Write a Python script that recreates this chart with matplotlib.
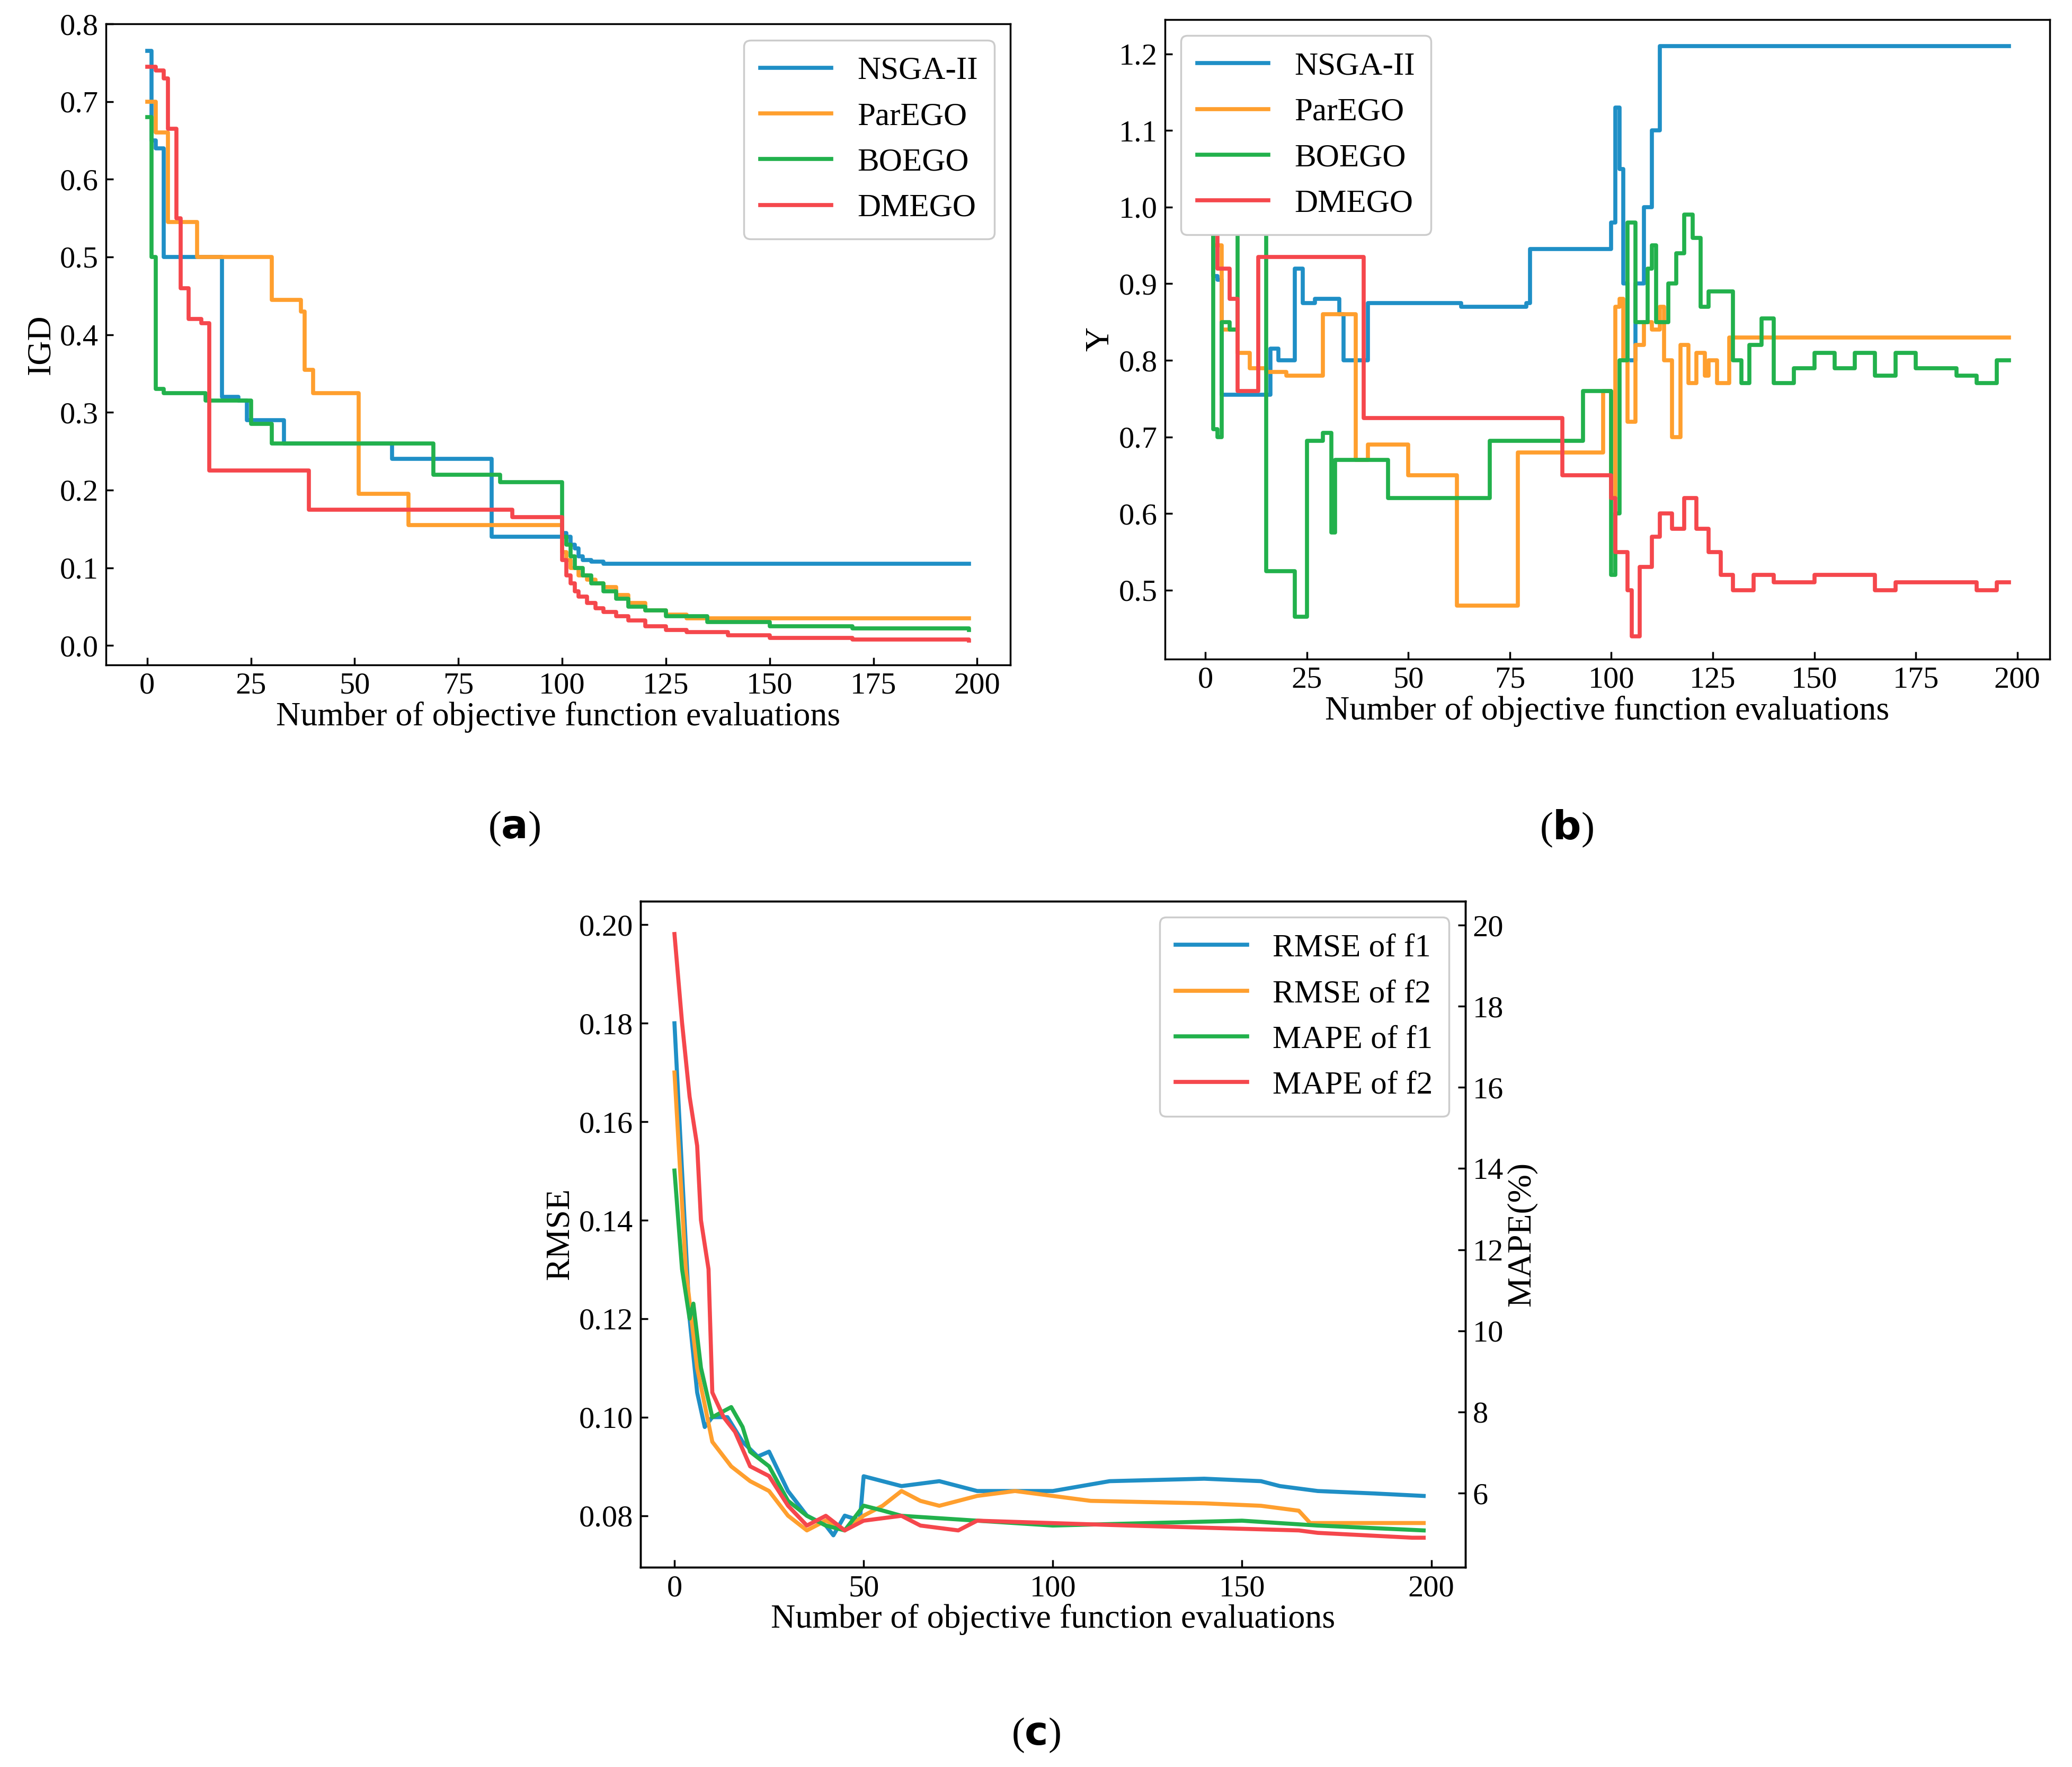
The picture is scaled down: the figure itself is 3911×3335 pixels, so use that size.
import matplotlib
matplotlib.use("Agg")
import matplotlib.pyplot as plt

plt.rcParams['font.family'] = ['Liberation Serif', 'DejaVu Serif']
plt.rcParams['font.size'] = 40

# ---------- (a) IGD ----------
a_ns_x = [0,1,2,4,17,18,22,24,33,59,83,99,100,101,102,103,104,105,107,110,198]
a_ns_y = [0.765,0.65,0.64,0.5,0.5,0.32,0.315,0.29,0.26,0.24,0.14,0.14,0.145,0.14,0.13,0.125,0.115,0.11,0.108,0.105,0.105]
a_pa_x = [0,2,5,12,30,37,38,40,51,63,99,100,101,102,104,106,108,110,113,116,120,125,130,198]
a_pa_y = [0.7,0.66,0.545,0.5,0.445,0.43,0.355,0.325,0.195,0.155,0.155,0.12,0.11,0.1,0.09,0.085,0.08,0.075,0.065,0.055,0.045,0.04,0.035,0.035]
a_bo_x = [0,1,2,4,14,25,30,69,85,99,100,101,102,103,105,107,110,113,116,120,125,135,150,170,198]
a_bo_y = [0.68,0.5,0.33,0.325,0.315,0.285,0.26,0.22,0.21,0.21,0.14,0.13,0.115,0.1,0.09,0.08,0.07,0.06,0.05,0.045,0.038,0.03,0.025,0.022,0.02]
a_dm_x = [0,2,4,5,7,8,10,13,15,39,88,99,100,101,102,103,104,106,108,110,113,116,120,125,130,140,150,170,198]
a_dm_y = [0.745,0.74,0.73,0.665,0.55,0.46,0.42,0.415,0.225,0.175,0.165,0.165,0.11,0.09,0.08,0.07,0.063,0.055,0.048,0.043,0.038,0.032,0.025,0.02,0.017,0.013,0.01,0.008,0.006]

# ---------- (b) Y ----------
b_ns_x = [0,2,3,4,14,16,18,22,24,27,33,34,40,63,79,80,99,100,101,102,103,104,106,108,110,112,198]
b_ns_y = [1.0,0.91,0.905,0.755,0.755,0.815,0.8,0.92,0.875,0.88,0.86,0.8,0.875,0.87,0.875,0.945,0.945,0.98,1.13,1.05,0.9,0.8,0.9,1.0,1.1,1.21,1.21]
b_pa_x = [0,2,4,8,11,15,20,29,36,37,40,50,62,77,97,98,100,101,102,103,104,105,106,108,110,112,113,115,117,119,121,123,124,126,129,198]
b_pa_y = [1.0,0.95,0.84,0.81,0.79,0.785,0.78,0.86,0.86,0.67,0.69,0.65,0.48,0.68,0.68,0.76,0.62,0.87,0.88,0.8,0.72,0.72,0.82,0.85,0.84,0.87,0.8,0.7,0.82,0.77,0.81,0.78,0.8,0.77,0.83,0.83]
b_bo_x = [0,2,3,4,6,8,14,15,22,25,29,31,32,45,70,92,93,98,100,101,102,104,106,109,110,111,114,116,118,120,122,124,128,130,132,134,137,140,145,150,155,160,165,170,175,180,185,190,195,198]
b_bo_y = [1.0,0.71,0.7,0.85,0.84,0.98,0.98,0.525,0.465,0.695,0.705,0.575,0.67,0.62,0.695,0.695,0.76,0.76,0.52,0.6,0.8,0.98,0.85,0.92,0.95,0.85,0.9,0.94,0.99,0.96,0.87,0.89,0.89,0.8,0.77,0.82,0.855,0.77,0.79,0.81,0.79,0.81,0.78,0.81,0.79,0.79,0.78,0.77,0.8,0.8]
b_dm_x = [0,3,6,8,13,39,88,100,101,103,104,105,107,110,112,115,118,121,124,127,130,135,140,150,160,165,170,180,190,195,198]
b_dm_y = [1.0,0.92,0.88,0.76,0.935,0.725,0.65,0.62,0.55,0.55,0.5,0.44,0.53,0.57,0.6,0.58,0.62,0.58,0.55,0.52,0.5,0.52,0.51,0.52,0.52,0.5,0.51,0.51,0.5,0.51,0.51]

# ---------- (c) RMSE / MAPE ----------
c_r1_x = [0,2,4,6,8,10,14,18,22,25,30,35,40,42,45,49,50,55,60,70,75,80,100,115,140,155,160,170,185,198]
c_r1_y = [0.18,0.15,0.12,0.105,0.098,0.1,0.1,0.095,0.092,0.093,0.085,0.08,0.078,0.076,0.08,0.079,0.088,0.087,0.086,0.087,0.086,0.085,0.085,0.087,0.0875,0.087,0.086,0.085,0.0845,0.084]
c_r2_x = [0,3,6,10,15,20,25,30,35,40,45,50,55,60,65,70,80,90,100,110,140,155,165,168,198]
c_r2_y = [0.17,0.13,0.11,0.095,0.09,0.087,0.085,0.08,0.077,0.079,0.077,0.08,0.082,0.085,0.083,0.082,0.084,0.085,0.084,0.083,0.0825,0.082,0.081,0.0785,0.0785]
c_m1_x = [0,2,4,5,7,10,15,18,20,25,30,35,40,45,50,55,60,80,100,150,170,198]
c_m1_y = [13.95,11.52,10.3,10.67,9.09,7.87,8.12,7.63,7.02,6.66,5.81,5.44,5.2,5.08,5.69,5.57,5.44,5.32,5.2,5.32,5.2,5.08]
c_m2_x = [0,2,4,6,7,9,10,13,16,20,25,30,35,40,45,50,60,65,75,80,120,165,170,195,198]
c_m2_y = [19.78,17.6,15.77,14.56,12.73,11.52,8.48,7.87,7.51,6.66,6.42,5.69,5.2,5.44,5.08,5.32,5.44,5.2,5.08,5.32,5.2,5.08,5.02,4.9,4.9]

labels_ab = ['NSGA-II', 'ParEGO', 'BOEGO', 'DMEGO']
colors = ['#1f8fc6', '#ff9f2e', '#22b14c', '#f5474c']
LW = 5.5
TICK = 42
LAB = 46
LEG = 44

fig = plt.figure(figsize=(39.12, 33.35), dpi=100)

def style(ax):
    ax.tick_params(direction='in', length=10, width=2.5, labelsize=TICK, pad=10)
    for s in ax.spines.values():
        s.set_linewidth(2.5)

def legend(ax, loc, handles=None):
    kw = dict(loc=loc, fontsize=LEG, handlelength=2.2, borderpad=0.5,
              labelspacing=0.5, framealpha=1, fancybox=True)
    lg = ax.legend(handles=handles, **kw) if handles else ax.legend(**kw)
    lg.get_frame().set_edgecolor('#cccccc')
    lg.get_frame().set_linewidth(2.5)

# (a)
axa = fig.add_axes([0.051, 0.6237, 0.4365, 0.3628])
for xs, ys, lab, c in zip([a_ns_x, a_pa_x, a_bo_x, a_dm_x], [a_ns_y, a_pa_y, a_bo_y, a_dm_y], labels_ab, colors):
    axa.plot(xs, ys, drawstyle='steps-post', color=c, lw=LW, label=lab)
axa.set_xlim(-10, 208)
axa.set_ylim(-0.025, 0.8)
axa.set_xticks([0, 25, 50, 75, 100, 125, 150, 175, 200])
axa.set_yticks([0.0, 0.1, 0.2, 0.3, 0.4, 0.5, 0.6, 0.7, 0.8])
axa.set_xlabel('Number of objective function evaluations', fontsize=LAB, labelpad=2)
axa.set_ylabel('IGD', fontsize=LAB, labelpad=4)
style(axa)
legend(axa, 'upper right')

# (b)
axb = fig.add_axes([0.562, 0.627, 0.427, 0.362])
for xs, ys, lab, c in zip([b_ns_x, b_pa_x, b_bo_x, b_dm_x], [b_ns_y, b_pa_y, b_bo_y, b_dm_y], labels_ab, colors):
    axb.plot(xs, ys, drawstyle='steps-post', color=c, lw=LW, label=lab)
axb.set_xlim(-10, 208)
axb.set_ylim(0.41, 1.245)
axb.set_xticks([0, 25, 50, 75, 100, 125, 150, 175, 200])
axb.set_yticks([0.5, 0.6, 0.7, 0.8, 0.9, 1.0, 1.1, 1.2])
axb.set_xlabel('Number of objective function evaluations', fontsize=LAB, labelpad=2)
axb.set_ylabel('Y', fontsize=LAB)
style(axb)
legend(axb, 'upper left')

# (c)
axc = fig.add_axes([0.309, 0.113, 0.398, 0.377])
axr = axc.twinx()
l1, = axc.plot(c_r1_x, c_r1_y, color=colors[0], lw=LW, label='RMSE of f1')
l2, = axc.plot(c_r2_x, c_r2_y, color=colors[1], lw=LW, label='RMSE of f2')
l3, = axr.plot(c_m1_x, c_m1_y, color=colors[2], lw=LW, label='MAPE of f1')
l4, = axr.plot(c_m2_x, c_m2_y, color=colors[3], lw=LW, label='MAPE of f2')
axc.set_xlim(-9, 209)
axc.set_ylim(0.0695, 0.2048)
axr.set_ylim(4.17, 20.59)
axc.set_xticks([0, 50, 100, 150, 200])
axc.set_yticks([0.08, 0.10, 0.12, 0.14, 0.16, 0.18, 0.20])
axr.set_yticks([6, 8, 10, 12, 14, 16, 18, 20])
axc.set_xlabel('Number of objective function evaluations', fontsize=LAB, labelpad=2)
axc.set_ylabel('RMSE', fontsize=LAB)
axr.set_ylabel('MAPE(%)', fontsize=LAB)
style(axc); style(axr)
legend(axr, 'upper right', handles=[l1, l2, l3, l4])

fig.text(0.248, 0.531, '($\\mathbf{a}$)', ha='center', va='center', fontsize=54)
fig.text(0.756, 0.531, '($\\mathbf{b}$)', ha='center', va='center', fontsize=54)
fig.text(0.5, 0.018, '($\\mathbf{c}$)', ha='center', va='center', fontsize=54)

fig.savefig('out.png', dpi=100, facecolor='white')
